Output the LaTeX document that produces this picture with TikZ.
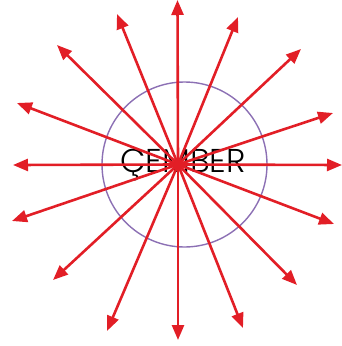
\documentclass[tikz,border=0pt]{standalone}
\usepackage{fontspec}
\setmainfont{Poppins}[UprightFont=* Light]
\usetikzlibrary{arrows.meta}
\definecolor{isin}{RGB}{226,30,38}
\definecolor{cember}{RGB}{140,112,180}

\begin{document}
\begin{tikzpicture}[x=1pt,y=-1pt,line width=2.6pt,>={Triangle[length=15pt,width=12pt]}]
  \useasboundingbox (0,0) rectangle (342,346);
  % cember ve yazi
  \coordinate (c) at (178,164.5);
  \draw[line width=1.4pt,cember] (184.5,164.5) circle(82.5);
  \node (lbl) at (183,165){\fontsize{33}{33}\selectfont ÇEMBER};
  % disari dogru isinlar
  \foreach \x/\y [count=\i] in {177.5/0,238/17,301/49,333/113,342/165,334/224,297/285,243/328,
      178/340,107/331,53/280,12/221,13/165,17/103,57/45,117/14}
  {\coordinate (t\i) at (\x,\y);
   \draw[->,isin] (c) -- (t\i);}
\end{tikzpicture}
\end{document}
